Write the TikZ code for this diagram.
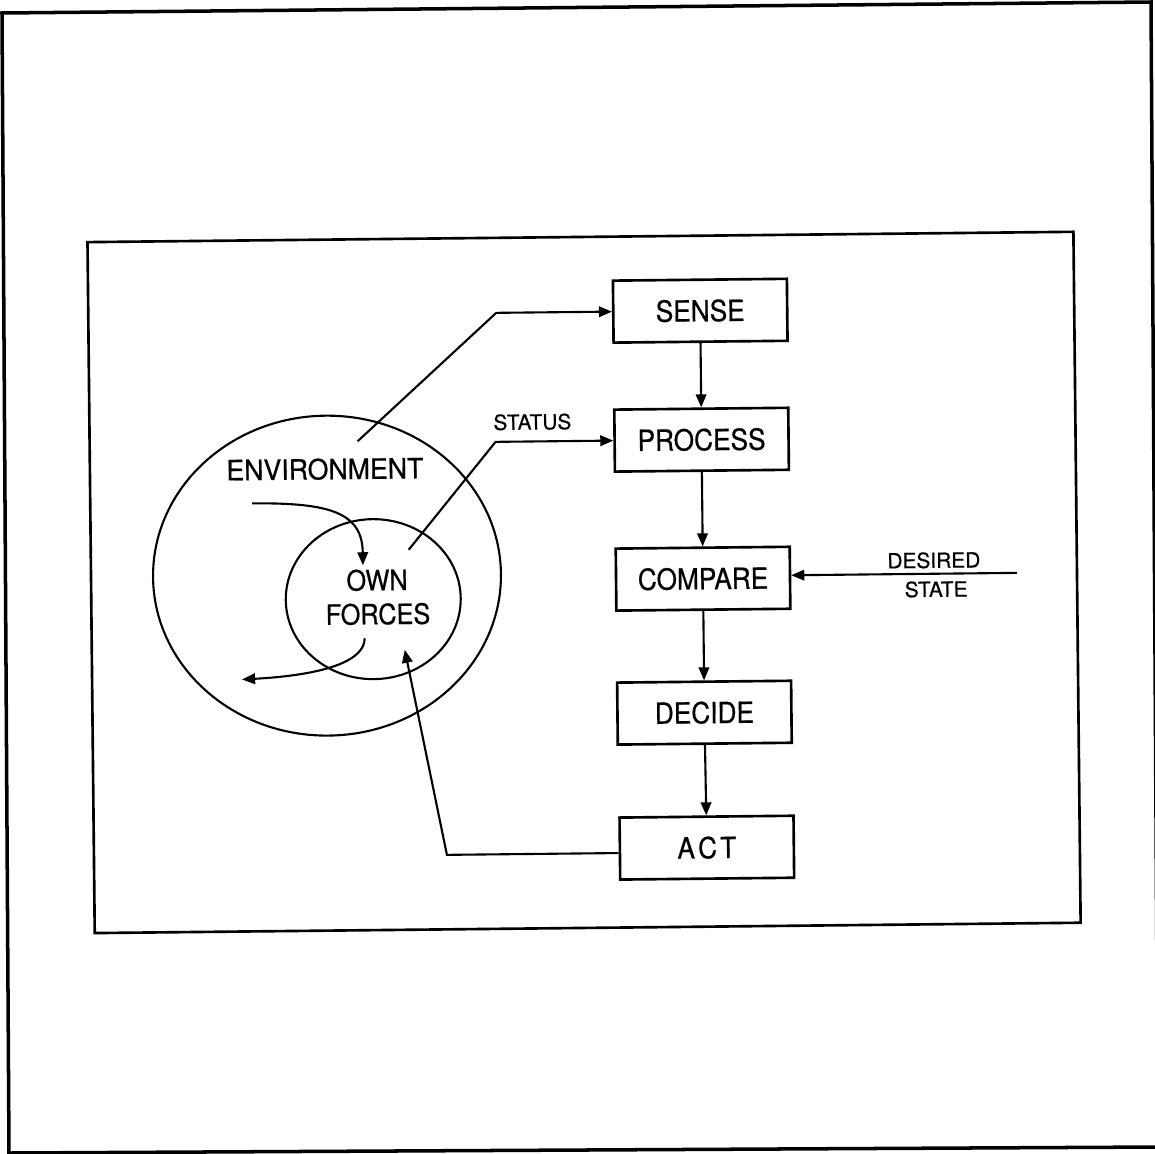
\documentclass[tikz,border=0pt]{standalone}
\usepackage{fontspec}
\setmainfont[FakeBold=0.5]{TeX Gyre Heros}
\newfontfamily\boxfont[FakeStretch=0.9,FakeBold=0.6]{TeX Gyre Heros}
\newfontfamily\envfont[FakeStretch=0.95,FakeBold=0.6]{TeX Gyre Heros}
\usetikzlibrary{arrows.meta,shapes.geometric}
\begin{document}
\begin{tikzpicture}[x=0.02cm,y=-0.02cm,
  arr/.style={line width=1.2pt,-{Triangle[length=7.4pt,width=6pt]}},
  blk/.style={draw,line width=1.5pt,minimum width=3.48cm,minimum height=1.24cm,inner sep=0pt,
    font=\boxfont\fontsize{16.6}{18}\selectfont},
  lbl/.style={inner sep=0pt,font=\fontsize{11.9}{13}\selectfont},
  bigtxt/.style={inner sep=0pt,font=\boxfont\fontsize{16}{18}\selectfont},
  ell/.style={draw,ellipse,line width=1.2pt,inner sep=0pt}]
\useasboundingbox (0,0) rectangle (1155,1153);
\clip (0,0) rectangle (1155,1153);
% outer page frame
\draw[line width=2pt] (2,13) -- (1151,2) -- (1158,1147) -- (9,1153) -- cycle;
\begin{scope}[rotate around={0.6:(577,576)},transform shape]
  % inner frame
  \draw[line width=1.5pt] (91,237) rectangle (1077,928);
  % circles
  \node[ell,minimum width=6.96cm,minimum height=6.4cm] (env) at (327,573) {};
  \node[ell,minimum width=3.5cm,minimum height=3.2cm] (own) at (373,597) {};
  \node[bigtxt,font=\envfont\fontsize{16}{18}\selectfont] (envtxt) at (326,466.5) {ENVIRONMENT};
  \node[bigtxt] (owntxt) at (377,578) {OWN};
  \node[bigtxt] (forcestxt) at (377.6,612) {FORCES};
  % blocks
  \node[blk] (sense) at (703,312) {SENSE};
  \node[blk] (process) at (703,441) {PROCESS};
  \node[blk] (compare) at (703,580) {COMPARE};
  \node[blk] (decide) at (703,714) {DECIDE};
  \node[blk] (act) at (704,849) {A\kern1.8pt C\kern1.8pt T};
  % vertical chain
  \draw[arr] (sense) -- (process);
  \draw[arr] (process) -- (compare);
  \draw[arr] (compare) -- (decide);
  \draw[arr] (decide) -- (act);
  % environment to sense
  \coordinate (envstart) at (359,439);
  \coordinate (envbend) at (499,312);
  \draw[arr] (envstart) -- (envbend) -- (sense.west);
  % status
  \coordinate (ststart) at (409,548);
  \coordinate (stbend) at (497,441);
  \draw[arr] (ststart) -- (stbend) -- (process.west);
  \node[lbl] (status) at (534,421.5) {STATUS};
  % desired state
  \coordinate (dsstart) at (1017,577.5);
  \draw[arr] (dsstart) -- (dsstart -| compare.east);
  \node[lbl] (desired) at (934,564) {DESIRED};
  \node[lbl] (state) at (936,593) {STATE};
  % act back to own forces
  \coordinate (actbend) at (444,853.5);
  \coordinate (acttip) at (404,648);
  \draw[arr] (act.west |- actbend) -- (actbend) -- (acttip);
  % curved arrows
  \coordinate (c1s) at (253,500);
  \coordinate (c1e) at (363,563);
  \draw[arr] (c1s) .. controls (330,500) and (363,510) .. (c1e);
  \coordinate (c2s) at (364,636);
  \coordinate (c2e) at (241,676);
  \draw[arr] (c2s) .. controls (364,657) and (329,672) .. (c2e);
\end{scope}
\end{tikzpicture}
\end{document}
